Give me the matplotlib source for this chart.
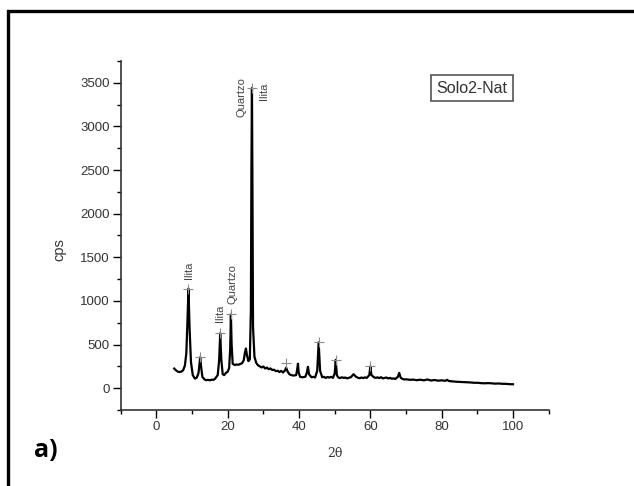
import matplotlib
matplotlib.use("Agg")
import matplotlib.pyplot as plt
from matplotlib.patches import Rectangle
from matplotlib.ticker import MultipleLocator

# XRD pattern (2theta in degrees, intensity in cps)
two_theta = [
    5.0, 5.5, 6.0, 6.5, 7.0, 7.5, 8.0, 8.4, 8.7, 9.0, 9.3, 9.7, 10.2, 10.8,
    11.3, 11.8, 12.1, 12.3, 12.5, 12.9, 13.5, 14.0, 14.5, 15.0, 15.5, 16.0,
    16.5, 17.2, 17.6, 17.9, 18.2, 18.6, 19.0, 19.5, 20.0, 20.4, 20.7, 20.9,
    21.1, 21.4, 22.0, 22.5, 23.0, 23.5, 24.0, 24.5, 24.8, 25.1, 25.4, 25.8,
    26.2, 26.5, 26.65, 26.8, 26.95, 27.1, 27.5, 28.0, 28.5, 29.0, 29.5, 30.0,
    30.5, 31.0, 31.5, 32.0, 32.5, 33.0, 33.5, 34.0, 34.5, 35.0, 35.5, 36.0,
    36.4, 36.8, 37.3, 37.8, 38.5, 39.2, 39.5, 39.7, 39.9, 40.3, 41.0, 41.8,
    42.2, 42.5, 42.8, 43.5, 44.0, 44.5, 45.1, 45.5, 45.9, 46.5, 47.0, 47.5,
    48.0, 48.5, 49.0, 49.5, 50.0, 50.3, 50.6, 51.0, 51.5, 52.0, 52.5, 53.0,
    53.5, 54.0, 54.5, 55.3, 56.0, 56.5, 57.0, 57.5, 58.0, 58.5, 59.0, 59.7,
    60.0, 60.3, 61.0, 61.5, 62.0, 62.5, 63.0, 63.5, 64.0, 64.5, 65.0, 65.5,
    66.0, 66.5, 67.0, 67.7, 68.1, 68.5, 69.0, 69.5, 70.0, 71.0, 72.0, 73.0,
    74.0, 75.0, 76.0, 77.0, 78.0, 79.0, 80.0, 81.0, 81.5, 82.0, 83.0, 84.0,
    85.0, 86.0, 87.0, 88.0, 89.0, 90.0, 91.0, 92.0, 93.0, 94.0, 95.0, 96.0,
    97.0, 98.0, 99.0, 100.0,
]
cps = [
    225, 205, 190, 185, 190, 205, 260, 400, 750, 1140, 700, 300, 150, 110,
    120, 170, 280, 355, 260, 130, 100, 92, 95, 90, 98, 95,
    110, 150, 320, 630, 330, 160, 150, 175, 190, 230, 450, 845,
    500, 280, 265, 272, 268, 278, 285, 320, 400, 455, 380, 310,
    330, 900, 2500, 3440, 2200, 700, 360, 290, 262, 250, 238, 248,
    225, 236, 218, 226, 208, 212, 195, 200, 185, 198, 180, 200,
    235, 190, 160, 150, 145, 150, 220, 280, 180, 130, 125, 132,
    180, 245, 160, 125, 130, 122, 200, 525, 200, 125, 130, 118,
    128, 122, 130, 118, 170, 325, 150, 122, 116, 125, 118, 122,
    112, 120, 125, 160, 130, 120, 114, 122, 116, 124, 118, 150,
    250, 150, 125, 118, 124, 116, 126, 112, 118, 122, 112, 118,
    108, 112, 106, 130, 175, 120, 106, 100, 102, 96, 98, 92,
    97, 90, 100, 88, 94, 86, 90, 84, 96, 82, 78, 74,
    72, 70, 68, 66, 62, 62, 58, 56, 58, 56, 52, 54,
    50, 50, 46, 45,
]

# peaks flagged with a "+" marker
marked_theta = [9.0, 12.3, 17.9, 20.9, 26.8, 36.4, 45.5, 50.3, 60.0]
marked_cps = [1140, 355, 630, 845, 3440, 285, 525, 325, 250]

# mineral labels (text, 2theta, cps at the bottom of the text)
phase_names = ["Ilita", "Ilita", "Quartzo", "Quartzo", "Ilita"]
phase_theta = [9.05, 17.9, 21.4, 24.0, 30.1]
phase_cps = [1250, 760, 960, 3110, 3300]

x_ticks = [0, 20, 40, 60, 80, 100]
y_ticks = [0, 500, 1000, 1500, 2000, 2500, 3000, 3500]

W, H = 634, 486
fig = plt.figure(figsize=(W / 100, H / 100), dpi=100)
plt.rcParams['font.family'] = ['Liberation Sans', 'DejaVu Sans']

# outer frame (clipped at the right and bottom like the source image)
fig.patches.append(Rectangle((7.5 / W, -0.05), 1.2, 1 - 11.5 / H + 0.05,
                             transform=fig.transFigure, fill=False,
                             edgecolor="black", linewidth=2.4))

ax = fig.add_axes([120.7 / W, 1 - 410 / H, (548.7 - 120.7) / W, (410 - 61) / H])
ax.plot(two_theta, cps, color="black", linewidth=1.6, solid_joinstyle="round")
ax.plot(marked_theta, marked_cps, linestyle="none", marker="+",
        markersize=7, markeredgewidth=0.8, color="#8a8a8a")

for name, tx, ty in zip(phase_names, phase_theta, phase_cps):
    ax.text(tx, ty, name, rotation=90, ha="center", va="bottom",
            fontsize=8, color="#444444")

ax.set_xlim(-10, 110)
ax.set_ylim(-250, 3750)
ax.set_xticks(x_ticks)
ax.set_yticks(y_ticks)
ax.xaxis.set_minor_locator(MultipleLocator(10))
ax.yaxis.set_minor_locator(MultipleLocator(250))
ax.tick_params(which="major", direction="out", length=6, width=1.0,
               labelsize=9.5, labelcolor="#333333", pad=2)
ax.tick_params(which="minor", direction="out", length=3, width=1.0)

for side in ["top", "right"]:
    ax.spines[side].set_visible(False)
for side in ["left", "bottom"]:
    ax.spines[side].set_linewidth(1.2)
    ax.spines[side].set_color("#333333")

ax.set_ylabel("cps", fontsize=10.5, color="#333333")
ax.yaxis.set_label_coords(-0.128, 0.46)
fig.text(335 / W, 1 - 453 / H, "2θ", ha="center", va="center",
         fontsize=9, family="DejaVu Serif", color="#333333")

# sample name box
fig.text(472 / W, 1 - 88 / H, "Solo2-Nat", ha="center", va="center",
         fontsize=11.5, color="#333333",
         bbox=dict(boxstyle="square,pad=0.35", facecolor="white",
                   edgecolor="#555555", linewidth=1.2))

fig.text(34 / W, 1 - 450 / H, "a)", ha="left", va="center",
         fontsize=18, fontweight="bold", family="Open Sans")

fig.savefig("out.png", dpi=100)
